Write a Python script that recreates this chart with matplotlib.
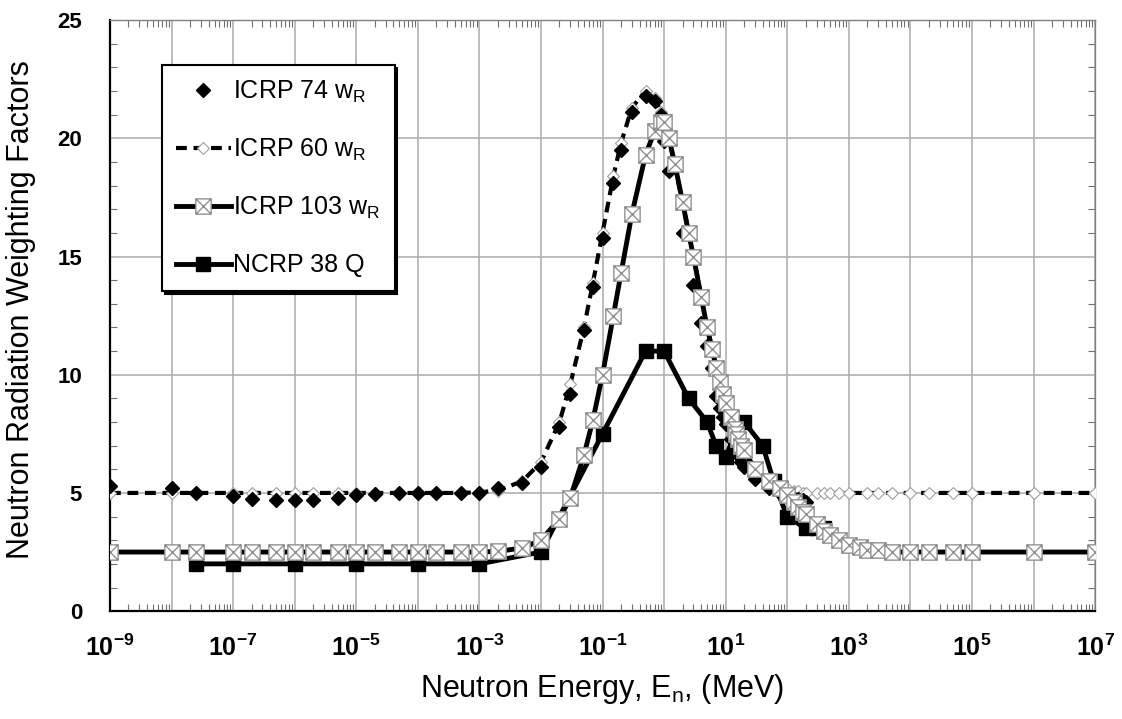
import numpy as np
import matplotlib
matplotlib.use('Agg')
import matplotlib.pyplot as plt
from matplotlib.path import Path
from matplotlib.ticker import FixedLocator, FuncFormatter, LogLocator, MultipleLocator, NullFormatter

plt.rcParams['font.family'] = ['Liberation Sans', 'DejaVu Sans']
plt.rcParams['mathtext.fontset'] = 'custom'
plt.rcParams['mathtext.rm'] = 'Liberation Sans'
plt.rcParams['mathtext.it'] = 'Liberation Sans:italic'
plt.rcParams['mathtext.bf'] = 'Liberation Sans:bold'

# ICRP 74 w_R (markers only)
e_icrp74 = [1e-9, 1e-8, 2.5e-8, 1e-7, 2e-7, 5e-7, 1e-6, 2e-6, 5e-6, 1e-5, 2e-5, 5e-5,
            1e-4, 2e-4, 5e-4, 1e-3, 2e-3, 5e-3, 0.01, 0.02, 0.03, 0.05, 0.07,
            0.1, 0.15, 0.2, 0.3, 0.5, 0.7, 0.9, 1.0, 1.2,
            2, 3, 4, 5, 6, 7, 8, 9, 10, 12, 14, 15, 16, 18, 20,
            30, 50, 75, 100, 130, 150, 180, 200]
w_icrp74 = [5.3, 5.2, 5.0, 4.85, 4.75, 4.7, 4.7, 4.72, 4.8, 4.9, 4.95, 5.0,
            5.0, 5.0, 5.0, 5.0, 5.2, 5.4, 6.1, 7.8, 9.2, 11.9, 13.7,
            15.8, 18.1, 19.5, 21.1, 21.8, 21.6, 21.0, 19.9, 18.6,
            16.0, 13.8, 12.2, 11.2, 10.3, 9.1, 8.6, 8.2, 7.9, 7.3, 6.9, 6.7, 6.6, 6.3, 6.1,
            5.6, 5.2, 5.0, 4.9, 4.8, 4.75, 4.7, 4.6]

# ICRP 60 w_R
e_icrp60 = [1e-9, 1e-8, 2.5e-8, 1e-7, 2e-7, 5e-7, 1e-6, 2e-6, 5e-6, 1e-5, 2e-5, 5e-5,
            1e-4, 2e-4, 5e-4, 1e-3, 2e-3, 5e-3, 0.01, 0.02, 0.03, 0.05, 0.07,
            0.1, 0.15, 0.2, 0.3, 0.5, 0.7, 0.9, 1.0, 1.2,
            2, 3, 4, 5, 6, 7, 8, 9, 10, 12, 14, 15, 16, 18, 20,
            30, 50, 75, 100, 130, 150, 180, 200, 300, 400, 500, 700, 1000,
            2000, 3000, 5000, 1e4, 2e4, 5e4, 1e5, 1e6, 1e7]
w_icrp60 = [5.0, 5.0, 5.0, 5.0, 5.0, 5.0, 5.0, 5.0, 5.0, 5.0, 5.0, 5.0,
            5.0, 5.0, 5.0, 5.03, 5.1, 5.5, 6.3, 8.0, 9.6, 12.0, 13.9,
            16.0, 18.4, 19.8, 21.3, 22.0, 21.7, 21.1, 20.7, 20.0,
            17.3, 15.0, 13.3, 12.0, 11.1, 10.3, 9.7, 9.2, 8.8, 8.2, 7.7, 7.5, 7.3, 7.0, 6.8,
            6.0, 5.5, 5.3, 5.2, 5.1, 5.1, 5.0, 5.0, 5.0, 5.0, 5.0, 5.0, 5.0,
            5.0, 5.0, 5.0, 5.0, 5.0, 5.0, 5.0, 5.0, 5.0]

# ICRP 103 w_R
e_icrp103 = [1e-9, 1e-8, 2.5e-8, 1e-7, 2e-7, 5e-7, 1e-6, 2e-6, 5e-6, 1e-5, 2e-5, 5e-5,
             1e-4, 2e-4, 5e-4, 1e-3, 2e-3, 5e-3, 0.01, 0.02, 0.03, 0.05, 0.07,
             0.1, 0.15, 0.2, 0.3, 0.5, 0.7, 0.9, 1.0, 1.2, 1.5,
             2, 2.5, 3, 4, 5, 6, 7, 8, 9, 10, 12, 14, 15, 16, 18, 20,
             30, 50, 75, 100, 130, 150, 180, 200, 300, 400, 500, 700, 1000,
             1500, 2000, 3000, 5000, 1e4, 2e4, 5e4, 1e5, 1e6, 1e7]
w_icrp103 = [2.5, 2.5, 2.5, 2.5, 2.5, 2.5, 2.5, 2.5, 2.5, 2.5, 2.5, 2.5,
             2.5, 2.5, 2.5, 2.5, 2.53, 2.67, 3.0, 3.9, 4.8, 6.6, 8.1,
             10.0, 12.5, 14.3, 16.8, 19.3, 20.3, 20.7, 20.7, 20.0, 18.9,
             17.3, 16.0, 15.0, 13.3, 12.0, 11.1, 10.3, 9.7, 9.2, 8.8, 8.2, 7.7, 7.5, 7.3, 7.0, 6.8,
             6.0, 5.5, 5.2, 4.9, 4.6, 4.4, 4.2, 4.1, 3.7, 3.4, 3.2, 3.0, 2.8,
             2.7, 2.6, 2.6, 2.5, 2.5, 2.5, 2.5, 2.5, 2.5, 2.5]

# NCRP 38 Q
e_ncrp38 = [2.5e-8, 1e-7, 1e-6, 1e-5, 1e-4, 1e-3, 1e-2, 0.1, 0.5, 1, 2.5, 5, 7, 10,
            14, 20, 40, 60, 100, 200, 300, 400]
q_ncrp38 = [2, 2, 2, 2, 2, 2, 2.5, 7.5, 11, 11, 9, 8, 7, 6.5,
            7.5, 8, 7, 5.5, 4, 3.5, 3.5, 3.5]

# square with a cross inside
box_x = Path([(-1, -1), (1, -1), (1, 1), (-1, 1), (-1, -1),
              (-1, -1), (1, 1), (-1, 1), (1, -1)],
             [Path.MOVETO, Path.LINETO, Path.LINETO, Path.LINETO, Path.CLOSEPOLY,
              Path.MOVETO, Path.LINETO, Path.MOVETO, Path.LINETO])

fig = plt.figure(figsize=(11.22, 7.19), dpi=100)
ax = fig.add_axes([0.098, 0.150, 0.878, 0.822])

ax.plot(e_icrp60, w_icrp60, color='black', lw=3, ls=(0, (2.6, 1.6)),
        marker='D', ms=6, mfc='white', mec='#a0a0a0', mew=0.8,
        label=r'ICRP 60 w$_\mathrm{R}$', zorder=3)
ax.plot(e_icrp74, w_icrp74, ls='none', marker='D', ms=7, color='black',
        label=r'ICRP 74 w$_\mathrm{R}$', zorder=4)
ax.plot(e_ncrp38, q_ncrp38, color='black', lw=3.5, marker='s', ms=10,
        label='NCRP 38 Q', zorder=5)
ax.plot(e_icrp103, w_icrp103, color='black', lw=3.5, marker=box_x, ms=11,
        mfc='white', mec='#909090', mew=1.0,
        label=r'ICRP 103 w$_\mathrm{R}$', zorder=6)

ax.set_xscale('log')
ax.set_xlim(1e-9, 1e7)
ax.set_ylim(0, 25)

ax.xaxis.set_major_locator(FixedLocator([10.0 ** k for k in range(-9, 8)]))
ax.xaxis.set_major_formatter(FuncFormatter(
    lambda v, pos: r'$\mathbf{10^{%d}}$' % round(np.log10(v)) if round(np.log10(v)) % 2 == 1 else ''))
ax.xaxis.set_minor_locator(LogLocator(base=10, subs=np.arange(2, 10), numticks=100))
ax.xaxis.set_minor_formatter(NullFormatter())
ax.yaxis.set_major_locator(MultipleLocator(5))
ax.yaxis.set_minor_locator(MultipleLocator(1))

ax.tick_params(which='major', length=0)
ax.tick_params(axis='x', which='major', labelsize=18, pad=17)
ax.tick_params(axis='y', which='major', labelsize=16, pad=20)
ax.tick_params(which='minor', direction='in', length=5, width=0.8, color='#707070',
               top=True, right=True)
for lab in ax.get_yticklabels():
    lab.set_fontweight('bold')

ax.grid(True, which='major', color='#b0b0b0', lw=1.2)
ax.set_axisbelow(True)
for s in ['left', 'bottom']:
    ax.spines[s].set_linewidth(1.6)
    ax.spines[s].set_color('black')
for s in ['top', 'right']:
    ax.spines[s].set_linewidth(1.0)
    ax.spines[s].set_color('#808080')

ax.set_xlabel(r'Neutron Energy, E$_\mathrm{n}$, (MeV)', fontsize=22, labelpad=8)
ax.set_ylabel('Neutron Radiation Weighting Factors', fontsize=22, labelpad=10)
ax.yaxis.set_label_coords(-0.075, 0.51)

handles, labels = ax.get_legend_handles_labels()
order = [1, 0, 3, 2]
leg = ax.legend([handles[i] for i in order], [labels[i] for i in order],
                loc='upper left', bbox_to_anchor=(0.053, 0.924), borderaxespad=0,
                fontsize=18, handlelength=2.2, handletextpad=0.1, labelspacing=1.28,
                borderpad=0.55, fancybox=False, edgecolor='black', framealpha=1,
                shadow={'color': 'black', 'alpha': 1})
leg.get_frame().set_linewidth(1.5)

plt.savefig('out.png', dpi=100)
